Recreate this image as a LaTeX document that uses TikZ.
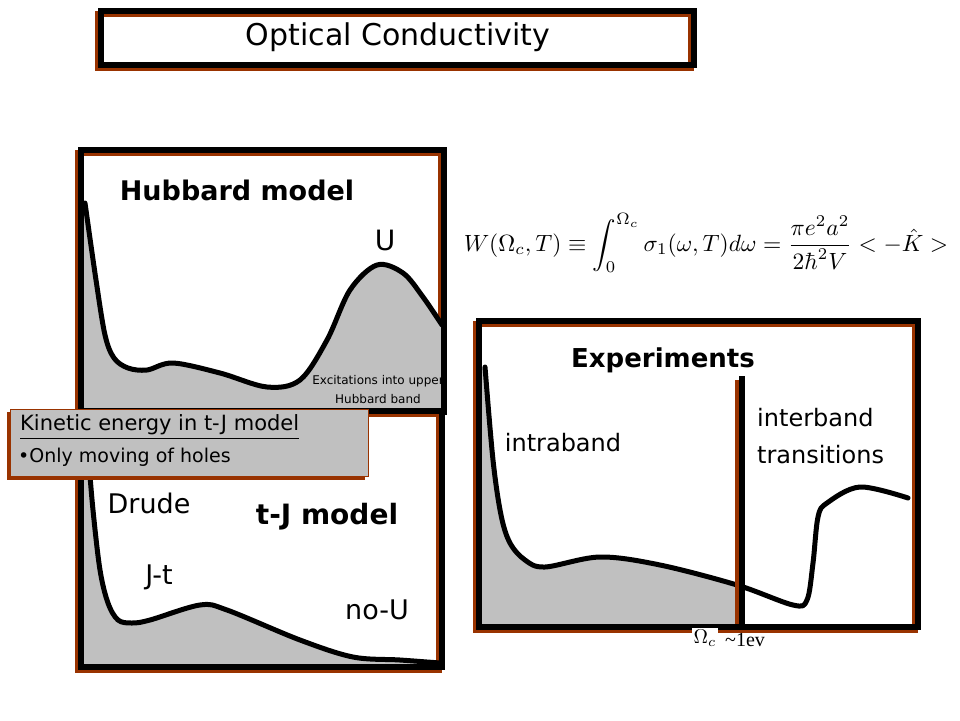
\documentclass[tikz,border=0pt]{standalone}
\usepackage[no-math]{fontspec}
\usepackage{amsmath}
\setmainfont{DejaVu Sans}
\newfontfamily\serifont{Liberation Serif}
\usetikzlibrary{calc}
\definecolor{rimbrown}{RGB}{153,51,0}
\definecolor{fillgray}{RGB}{192,192,192}
\newcommand{\fsz}[1]{\fontsize{#1}{#1}\selectfont}

\begin{document}
\begin{tikzpicture}[x=1pt,y=-1pt,
        shadowline/.style={draw=rimbrown,line width=6pt},
        frameline/.style={draw=black,line width=6pt},
        curve/.style={line width=5pt,line join=round,line cap=round},
        lbl/.style={inner sep=0pt}]
            \useasboundingbox (0,0) rectangle (960,720);

            % 定义框的角点
            \coordinate (T1) at (101,11);
            \coordinate (T2) at (694,65);
            \coordinate (H1) at (81,150);
            \coordinate (H2) at (444,412);
            \coordinate (J1) at (81,411);
            \coordinate (J2) at (442,667);
            \coordinate (E1) at (479,321);
            \coordinate (E2) at (918,627);

            % 标题框
            \fill[white] (T1) rectangle (T2);
            \draw[shadowline] ($(T1)+(-3,3)$) rectangle ($(T2)+(-3,3)$);
            \draw[frameline] (T1) rectangle (T2);
            \node[lbl] (title) at (398,37) {\fsz{30}Optical Conductivity};

            % Hubbard 模型
            \fill[white] (H1) rectangle (H2);
            \draw[shadowline] ($(H1)+(-3,3)$) rectangle ($(H2)+(-3,3)$);
            \fill[fillgray] (84,203) -- plot[smooth,tension=0.55] coordinates {(85,203) (96,280) (105,335) (114,358) (128,368) (147,370) (173,363) (220,373) (267,387) (300,380) (327,340) (350,290) (377,265) (403,273) (423,297) (442,325)} -- (444,410) -- (84,410) -- cycle;
            \draw[curve] plot[smooth,tension=0.55] coordinates {(85,203) (96,280) (105,335) (114,358) (128,368) (147,370) (173,363) (220,373) (267,387) (300,380) (327,340) (350,290) (377,265) (403,273) (423,297) (442,325)};
            \node[lbl] (exc) at (378,381) {\fsz{12}Excitations into upper};
            \node[lbl] (hband) at (378,399) {\fsz{12}Hubbard band};
            \draw[frameline] (H1) rectangle (H2);
            \node[lbl] (hub) at (237,190) {\fsz{27}\bfseries Hubbard model};
            \node[lbl] (U) at (385,240) {\fsz{28}U};

            % t-J 模型
            \fill[white] (J1) rectangle (J2);
            \draw[shadowline] ($(J1)+(-3,3)$) rectangle ($(J2)+(-3,3)$);
            \fill[fillgray] (84,414) -- plot[smooth,tension=0.55] coordinates {(86,414) (88,450) (93,510) (100,570) (108,603) (118,620) (132,623) (150,620) (200,605) (227,610) (300,640) (353,657) (400,660) (440,663)} -- (440,665) -- (84,665) -- cycle;
            \draw[curve] plot[smooth,tension=0.55] coordinates {(86,414) (88,450) (93,510) (100,570) (108,603) (118,620) (132,623) (150,620) (200,605) (227,610) (300,640) (353,657) (400,660) (440,663)};
            \draw[frameline] (J1) rectangle (J2);
            \node[lbl] (drude) at (149,503) {\fsz{27}Drude};
            \node[lbl] (tj) at (327,517) {\fsz{28}\bfseries t-J model};
            \node[lbl] (jt) at (159,577) {\fsz{27}J-t};
            \node[lbl] (noU) at (377,610) {\fsz{27}no-U};

            % 动能说明框
            \fill[rimbrown] (7,412) rectangle (365,480);
            \draw[draw=rimbrown,fill=fillgray,line width=0.8pt] (10,409) rectangle (368,476);
            \node[lbl,anchor=west] (kin) at (20,427) {\fsz{21}\underline{Kinetic energy in t-J model}};
            \node[lbl,anchor=west] (holes) at (18,457) {\fsz{19}•Only moving of holes};

            % 实验
            \fill[white] (E1) rectangle (E2);
            \draw[shadowline] ($(E1)+(-3,3)$) rectangle ($(E2)+(-3,3)$);
            \begin{scope}
                \clip (482,300) rectangle (738,625);
                \fill[fillgray] (482,367) -- plot[smooth,tension=0.55] coordinates {(485,367) (493,460) (501,515) (510,543) (525,560) (545,567) (600,557) (660,565) (737,585) (793,605)} -- (793,625) -- (482,625) -- cycle;
            \end{scope}
            \draw[curve] plot[smooth,tension=0.55] coordinates {(485,367) (493,460) (501,515) (510,543) (525,560) (545,567) (600,557) (660,565) (737,585) (793,605) (807,600) (813,563) (818,517) (827,503) (860,487) (908,498)};
            \draw[rimbrown,line width=6pt] (738,380) -- (738,630);
            \draw[black,line width=6pt] (742,376) -- (742,627);
            \node[lbl,anchor=west] (ev) at (725,640) {\serifont\fsz{20}\textasciitilde 1ev};
            \draw[frameline] (E1) rectangle (E2);
            \node[lbl] (expt) at (663,360) {\fsz{26}\bfseries Experiments};
            \node[lbl] (intra) at (563,443) {\fsz{24}intraband};
            \node[lbl,anchor=west] (inter) at (757,418) {\fsz{24}interband};
            \node[lbl,anchor=west] (trans) at (757,455) {\fsz{24}transitions};
            \node[fill=white,inner sep=2pt] (omega) at (705,638) {\scalebox{2}{$\Omega_c$}};

            % 公式
            \node (formel) at (706,243) {\scalebox{2.35}{$\displaystyle W(\Omega_c,T)\equiv\int_0^{\Omega_c}\sigma_1(\omega,T)d\omega=\frac{\pi e^2a^2}{2\hbar^2V}<-\hat{K}>$}};
        \end{tikzpicture}
\end{document}
